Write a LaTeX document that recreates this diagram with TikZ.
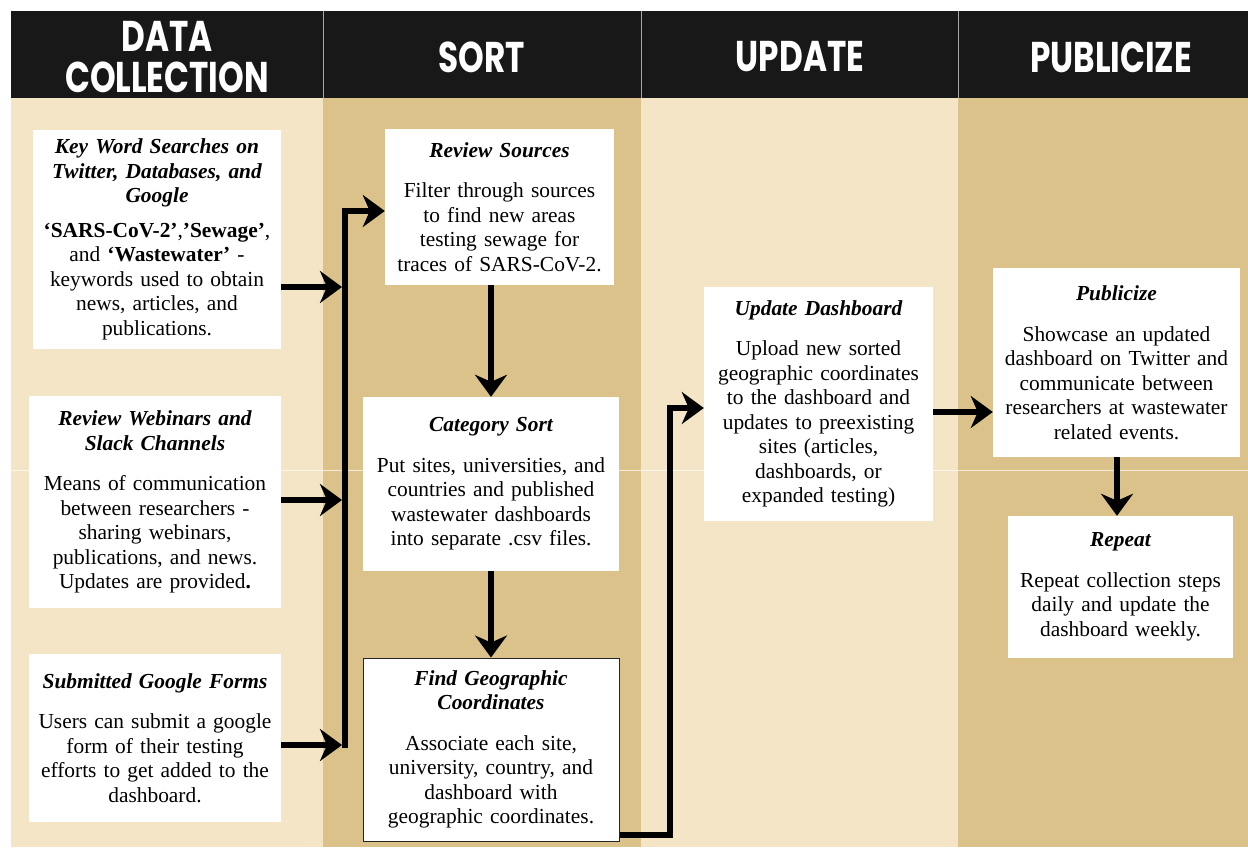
\documentclass[tikz,border=0pt]{standalone}
\usepackage{fontspec}
\setmainfont{Liberation Serif}
\newfontfamily\hdrfont{Poppins}[FakeStretch=0.76]
\usetikzlibrary{arrows.meta}
\definecolor{lightcol}{HTML}{F3E5C5}
\definecolor{darkcol}{HTML}{DAC28A}
\definecolor{hdrbg}{HTML}{181818}
\begin{document}
\begin{tikzpicture}[x=1pt,y=-1pt,
  box/.style={fill=white, align=center, inner xsep=2pt, inner ysep=0pt,
    font=\fontsize{21.4}{24.5}\selectfont},
  arr/.style={line width=6pt, line join=miter,
    -{Stealth[length=22pt,width=32pt,inset=7pt]}},
  hdr/.style={text=white, align=center,
    font=\hdrfont\bfseries\fontsize{43}{41}\selectfont},
  divider/.style={draw=gray!70, line width=0.8pt}]
\useasboundingbox (0,0) rectangle (1248,847);
\fill[white] (0,0) rectangle (1248,847);
% columns
\fill[lightcol] (11,98) rectangle (323,847);
\fill[darkcol] (323,98) rectangle (641,847);
\fill[lightcol] (641,98) rectangle (958,847);
\fill[darkcol] (958,98) rectangle (1248,847);
\draw[white, opacity=0.7, line width=1pt] (11,470) -- (1248,470);
% header
\fill[hdrbg] (11,11) rectangle (1248,98);
\draw[divider] (323,11) -- (323,98);
\draw[divider] (641,11) -- (641,98);
\draw[divider] (958,11) -- (958,98);
\node[hdr] (h1) at (167,57) {DATA\\COLLECTION};
\node[hdr] (h2) at (482,57) {SORT};
\node[hdr] (h3) at (800,57) {UPDATE};
\node[hdr] (h4) at (1111,57) {PUBLICIZE};
% boxes
\node[box, text width=244pt, minimum height=219pt] (kw) at (157,239.5)
 {{\bfseries\itshape Key Word Searches on\\Twitter, Databases, and\\Google}\\[10pt]
  \textbf{‘SARS-CoV-2’},\textbf{’Sewage’},\\and \textbf{‘Wastewater’} -\\keywords used to obtain\\news, articles, and\\publications.};
\node[box, text width=248pt, minimum height=212pt] (web) at (155,502)
 {{\bfseries\itshape Review Webinars and\\Slack Channels}\\[16pt]
  Means of communication\\between researchers -\\sharing webinars,\\publications, and news.\\Updates are provided\textbf{.}};
\node[box, text width=248pt, minimum height=168pt] (gf) at (155,738)
 {{\bfseries\itshape Submitted Google Forms}\\[16pt]
  Users can submit a google\\form of their testing\\efforts to get added to the\\dashboard.};
\node[box, text width=225pt, minimum height=156pt] (rs) at (499.5,207)
 {{\bfseries\itshape Review Sources}\\[16pt]
  Filter through sources\\to find new areas\\testing sewage for\\traces of SARS-CoV-2.};
\node[box, text width=252pt, minimum height=174pt] (cs) at (491,484)
 {{\bfseries\itshape Category Sort}\\[16pt]
  Put sites, universities, and\\countries and published\\wastewater dashboards\\into separate .csv files.};
\node[box, draw=black!85, line width=1pt, text width=252pt, minimum height=183pt] (fg) at (491,749.5)
 {{\bfseries\itshape Find Geographic\\Coordinates}\\[16pt]
  Associate each site,\\university, country, and\\dashboard with\\geographic coordinates.};
\node[box, text width=225pt, minimum height=234pt] (ud) at (818.5,404)
 {{\bfseries\itshape Update Dashboard}\\[16pt]
  Upload new sorted\\geographic coordinates\\to the dashboard and\\updates to preexisting\\sites (articles,\\dashboards, or\\expanded testing)};
\node[box, text width=243pt, minimum height=189pt] (pub) at (1116.5,362.5)
 {{\bfseries\itshape Publicize}\\[16pt]
  Showcase an updated\\dashboard on Twitter and\\communicate between\\researchers at wastewater\\related events.};
\node[box, text width=221pt, minimum height=142pt] (rep) at (1120.5,587)
 {{\bfseries\itshape Repeat}\\[16pt]
  Repeat collection steps\\daily and update the\\dashboard weekly.};
% connectors
\coordinate (b1) at (342,287);
\coordinate (b2) at (342,500);
\coordinate (b3) at (342,745);
\coordinate (bb) at (345,748);
\coordinate (bt) at (345,211);
\draw[arr] (kw.east |- b1) -- (b1);
\draw[arr] (web.east |- b2) -- (b2);
\draw[arr] (gf.east |- b3) -- (b3);
\draw[arr] (bb) -- (bt) -- (rs.west |- bt);
\draw[arr] (rs.south -| cs.north) -- (cs.north);
\draw[arr] (cs.south) -- (fg.north);
\coordinate (c1) at (670,835);
\coordinate (c2) at (670,408);
\draw[arr] (fg.east |- c1) -- (c1) -- (c2) -- (ud.west |- c2);
\coordinate (c3) at (960,412);
\draw[arr] (ud.east |- c3) -- (pub.west |- c3);
\draw[arr] (pub.south -| 1117,0) -- (rep.north -| 1117,0);
\end{tikzpicture}
\end{document}
